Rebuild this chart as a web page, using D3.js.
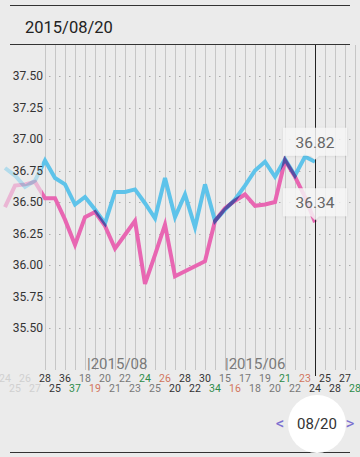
<!DOCTYPE html>
<html><head><meta charset="utf-8">
<script src="https://cdn.jsdelivr.net/npm/d3@7"></script>
<style>
html,body{margin:0;padding:0;background:#ebebeb;}
svg{display:block;font-family:Roboto,"Noto Sans",sans-serif;}
</style></head>
<body>
<svg id="c" width="360" height="457"></svg>
<script>
const title = "2015/08/20";
const yTicks = [35.50, 35.75, 36.00, 36.25, 36.50, 36.75, 37.00, 37.25, 37.50];
const dayLabels = ["24","25","26","27","28","25","36","37","18","19","20","21","22","23","24","25","26","20","28","22","30","34","15","16","17","18","19","20","21","22","23","24","25","28","27","28"];
const dayColors = ["f","f","f","f","d","d","d","g","l","r","l","l","l","l","g","l","r","d","d","d","d","g","l","r","l","l","l","l","g","l","r","d","d","d","d","g"];
const monthLabels = [{i:8.2, t:"|2015/08"}, {i:22, t:"|2015/06"}];
const seriesBlue = [36.77,36.71,36.62,36.67,36.83,36.69,36.64,36.48,36.54,36.44,36.33,36.58,36.58,36.60,36.49,36.37,36.69,36.38,36.56,36.30,36.64,36.35,36.44,36.52,36.63,36.75,36.82,36.70,36.84,36.71,36.86,36.82];
const seriesPink = [36.46,36.63,36.64,36.66,36.53,36.53,36.36,36.16,36.38,36.42,36.31,36.13,36.24,36.35,35.85,36.08,36.32,35.91,35.95,35.99,36.03,36.35,36.45,36.51,36.56,36.47,36.48,36.50,36.83,36.70,36.54,36.34];
const selectedIndex = 31;
const tipBlue = "36.82", tipPink = "36.34";
const navLabel = "08/20";

const svg = d3.select("#c");
const x = d3.scaleLinear().domain([0, 35]).range([5, 355]);
const y = d3.scaleLinear().domain([35.5, 37.5]).range([328, 76]);

// frame lines
svg.append("line").attr("x1",10).attr("x2",350).attr("y1",5.5).attr("y2",5.5).attr("stroke","#333");
svg.append("line").attr("x1",10).attr("x2",350).attr("y1",44.5).attr("y2",44.5).attr("stroke","#333");
svg.append("line").attr("x1",10).attr("x2",350).attr("y1",452.5).attr("y2",452.5).attr("stroke","#333");
svg.append("text").attr("x",25).attr("y",33).attr("font-size",16.5).attr("fill","#222").text(title);

// vertical grid
const gridIdx = d3.range(4, 36);
svg.append("g").selectAll("line").data(gridIdx).join("line")
  .attr("x1", d => Math.round(x(d)) + 0.5).attr("x2", d => Math.round(x(d)) + 0.5)
  .attr("y1", 45).attr("y2", 370).attr("stroke", "#c6c6c6");

// horizontal dotted grid
svg.append("g").selectAll("line").data(yTicks).join("line")
  .attr("x1", 49).attr("x2", 355)
  .attr("y1", d => Math.round(y(d)) + 0.5).attr("y2", d => Math.round(y(d)) + 0.5)
  .attr("stroke", "#aaa").attr("stroke-dasharray", "1.5,8.5");

// series
const line = d3.line().x((d,i) => x(i)).y(d => y(d));
const lg = svg.append("g").style("isolation","isolate");
lg.append("path").datum(seriesBlue).attr("d", line).attr("fill","none")
  .attr("stroke","#5ec3ea").attr("stroke-width",4).attr("stroke-linejoin","miter");
lg.append("path").datum(seriesPink).attr("d", line).attr("fill","none")
  .attr("stroke","#e866b2").attr("stroke-width",4).attr("stroke-linejoin","miter")
  .style("mix-blend-mode","multiply");

// left fade overlay
svg.append("rect").attr("x",0).attr("y",46).attr("width",42).attr("height",300)
  .attr("fill","#ebebeb").attr("opacity",0.6);

// y labels
svg.append("g").selectAll("text").data(yTicks).join("text")
  .attr("x", 43).attr("y", d => y(d)).attr("dy","0.36em").attr("text-anchor","end")
  .attr("font-size",12).attr("fill","#333").text(d => d3.format(".2f")(d));

// month labels
svg.append("g").selectAll("text").data(monthLabels).join("text")
  .attr("x", d => x(d.i)).attr("y", 369).attr("font-size",15).attr("fill","#7a7a7a").text(d => d.t);

// day labels
const colMap = {f:"#d0d0d0", d:"#333", l:"#777", g:"#2e8b4a", r:"#d2765e"};
svg.append("g").selectAll("text").data(dayLabels).join("text")
  .attr("x", (d,i) => x(i)).attr("y", (d,i) => i % 2 === 0 ? 382 : 392)
  .attr("text-anchor","middle").attr("font-size",10.5)
  .attr("fill", (d,i) => colMap[dayColors[i]]).text(d => d);

// selected line
svg.append("line").attr("x1", x(selectedIndex)+0.5).attr("x2", x(selectedIndex)+0.5)
  .attr("y1",45).attr("y2",376).attr("stroke","#222");

// tooltips
const defs = svg.append("defs");
const f = defs.append("filter").attr("id","sh").attr("x","-20%").attr("y","-30%").attr("width","140%").attr("height","160%");
f.append("feDropShadow").attr("dx",0).attr("dy",0.5).attr("stdDeviation",1).attr("flood-color","#000").attr("flood-opacity",0.12);
function tip(v, label) {
  const cx = x(selectedIndex), by = y(v) - 6;
  const g = svg.append("g").attr("filter","url(#sh)");
  g.append("path").attr("d", `M${cx-32},${by-28} h64 v28 h-28 l-4,4 l-4,-4 h-28 z`)
    .attr("fill","#f8f8f8").attr("opacity",0.82);
  svg.append("text").attr("x", cx).attr("y", by-8).attr("text-anchor","middle")
    .attr("font-size",15.5).attr("fill","#666").text(label);
}
tip(+tipBlue, tipBlue);
tip(+tipPink, tipPink);

// bottom nav
svg.append("circle").attr("cx",317).attr("cy",424).attr("r",29).attr("fill","#fff");
svg.append("text").attr("x",317).attr("y",429).attr("text-anchor","middle").attr("font-size",15).attr("fill","#333").text(navLabel);
svg.append("text").attr("x",280).attr("y",429).attr("text-anchor","middle").attr("font-size",17).attr("fill","#7b6fd0").text("<");
svg.append("text").attr("x",350).attr("y",429).attr("text-anchor","middle").attr("font-size",17).attr("fill","#7b6fd0").text(">");
</script>
</body></html>
